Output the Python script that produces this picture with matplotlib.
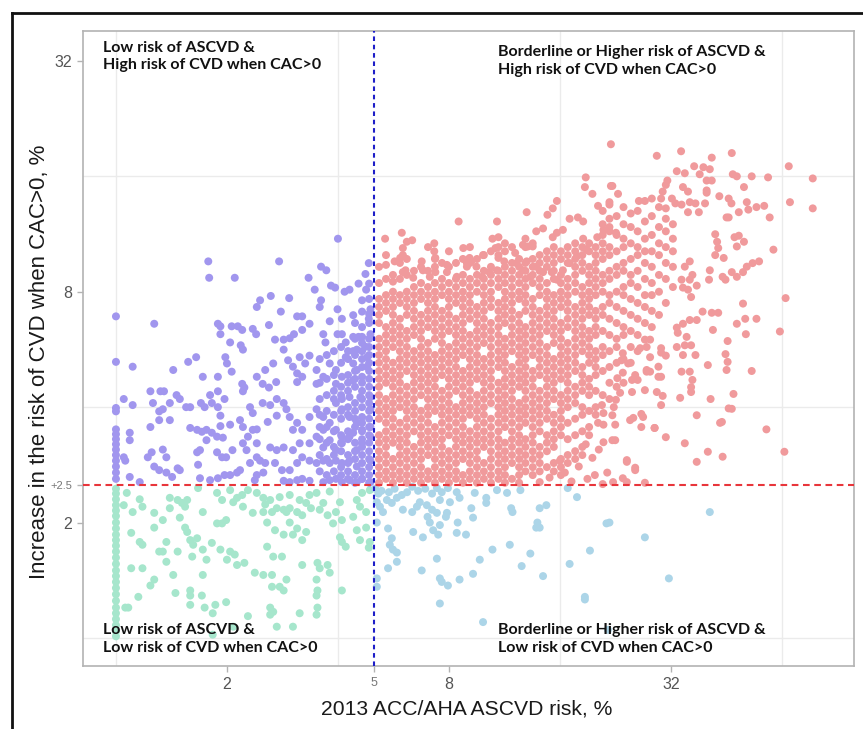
import matplotlib
matplotlib.use("Agg")
import matplotlib.pyplot as plt
from matplotlib.lines import Line2D
from matplotlib.ticker import FixedLocator, NullFormatter

# --- values (x = ASCVD risk %, y = increase in CVD risk %) ---

# low ASCVD / high CVD (purple)
purple_pts = [
    (4.0, 11.0), (1.78, 9.6), (1.79, 8.7), (2.1, 8.7), (2.77, 9.6), (3.33, 8.7), (3.6, 9.3), (3.72, 9.1),
    (4.85, 9.5), (4.75, 8.9), (3.46, 8.1), (3.83, 8.3), (3.93, 8.2), (4.17, 8.0), (4.3, 8.1), (4.55, 8.4),
    (4.77, 8.1), (2.63, 7.8), (2.95, 7.7), (2.46, 7.6), (2.41, 7.3), (2.8, 7.1), (3.6, 7.6), (3.57, 7.3),
    (3.99, 7.2), (3.8, 6.7), (4.1, 6.8), (4.4, 6.95), (4.65, 7.6), (4.9, 7.2), (4.85, 6.8), (3.1, 6.9),
    (3.2, 6.9), (3.35, 6.6), (2.6, 6.55), (1.89, 6.6), (1.92, 6.5), (1.92, 6.2), (2.06, 6.5), (2.14, 6.5),
    (2.2, 6.36), (2.35, 6.4), (2.4, 6.2), (2.7, 6.0), (2.85, 6.0), (2.96, 6.05), (3.04, 6.2), (3.2, 6.36),
    (3.65, 6.2), (3.7, 5.9), (3.99, 6.2), (4.1, 6.2), (4.4, 6.1), (4.55, 6.1), (4.65, 6.1), (4.9, 6.2),
    (1.0, 6.9), (1.27, 6.6), (1.0, 5.25), (1.11, 5.1), (1.43, 5.0), (1.57, 5.25), (1.65, 5.4),
    (2.04, 5.9), (2.18, 5.8), (2.21, 5.65), (1.98, 5.4), (2.0, 5.2), (2.06, 4.95), (1.72, 4.8), (1.89, 4.8),
    (2.2, 4.6), (2.23, 4.5), (2.21, 4.4), (2.41, 4.8), (2.54, 5.0), (2.67, 5.2), (2.85, 5.65), (2.93, 5.3),
    (3.02, 5.1), (3.15, 5.4), (3.26, 5.2), (3.35, 5.45), (3.1, 4.9), (3.2, 4.8), (3.1, 4.65), (3.5, 5.0),
    (3.65, 4.8), (3.5, 4.6), (3.8, 5.2), (3.95, 5.0), (4.1, 4.8), (3.95, 4.6), (4.2, 5.4), (4.4, 5.2),
    (4.5, 5.0), (4.4, 4.7), (4.65, 4.8), (4.8, 5.1), (4.8, 5.4), (4.5, 5.65), (4.75, 5.75), (4.2, 5.9),
    (4.4, 5.6), (2.5, 4.6), (2.6, 4.5), (2.72, 4.65),
    (1.05, 4.2), (1.11, 4.05), (1.0, 3.98), (1.0, 3.9), (1.24, 4.4), (1.32, 4.4), (1.35, 4.4), (1.26, 4.1),
    (1.31, 3.9), (1.34, 3.95), (1.4, 4.1), (1.46, 4.3), (1.49, 4.2), (1.55, 4.0), (1.59, 4.0), (1.4, 3.7),
    (1.31, 3.7), (1.24, 3.55), (1.09, 3.43), (1.09, 3.28),
    (1.7, 4.1), (1.74, 4.0), (1.8, 4.3), (1.82, 4.1), (1.89, 4.0), (1.89, 4.4), (1.97, 4.2), (1.92, 3.8),
    (1.92, 3.57), (2.04, 3.6), (2.17, 3.7), (2.31, 4.0), (2.35, 3.86), (2.41, 3.5), (2.21, 3.55),
    (2.5, 4.1), (2.62, 4.05), (2.73, 4.2), (2.85, 4.1), (2.9, 3.95), (2.73, 3.8), (2.58, 3.66), (2.96, 3.77),
    (3.1, 3.64), (3.2, 3.49), (3.02, 3.49), (3.35, 3.77), (3.5, 3.95), (3.65, 3.77), (3.57, 3.55), (3.8, 3.64),
    (3.65, 3.49), (3.95, 4.1), (4.1, 3.95), (4.3, 3.77), (4.5, 3.64), (4.65, 3.77), (4.9, 3.95), (4.9, 4.25),
    (4.6, 4.25), (4.3, 4.25), (4.1, 4.2), (3.95, 3.49), (4.1, 3.35), (4.4, 3.43), (4.65, 3.49), (4.9, 3.55),
    (1.0, 3.5), (1.0, 3.4), (1.0, 3.3), (1.0, 3.2), (1.0, 3.1), (1.0, 3.0), (1.0, 2.9), (1.0, 2.8),
    (1.0, 2.7), (1.0, 2.6), (1.05, 2.96), (1.06, 2.9), (1.09, 2.63), (1.16, 2.55), (1.25, 3.05), (1.22, 2.96),
    (1.27, 2.8), (1.31, 2.74), (1.37, 2.7), (1.42, 2.63), (1.47, 2.77), (1.49, 2.74), (1.34, 3.1), (1.37, 2.96),
    (1.59, 3.53), (1.66, 3.49), (1.71, 3.45), (1.76, 3.49), (1.82, 3.43), (1.76, 3.28), (1.66, 3.05),
    (1.69, 3.09), (1.88, 3.35), (1.95, 3.33), (1.88, 3.05), (1.94, 2.96), (1.99, 2.96), (2.07, 3.09),
    (1.67, 2.83), (1.69, 2.61), (1.8, 2.58), (1.89, 2.61), (1.97, 2.66), (2.04, 2.66), (2.13, 2.7), (2.17, 2.74),
    (2.21, 3.22), (2.28, 3.35), (2.35, 3.49), (2.41, 3.22), (2.26, 3.09), (2.41, 2.96), (2.31, 2.86),
    (2.46, 2.9), (2.54, 2.86), (2.51, 2.7), (2.41, 2.66), (2.38, 2.58), (2.62, 3.14), (2.73, 3.09),
    (2.85, 3.14), (2.7, 2.86), (2.82, 2.74), (2.96, 2.74), (3.1, 2.86), (3.2, 2.96), (3.02, 3.09), (3.15, 3.22),
    (2.85, 2.57), (2.96, 2.55), (3.1, 2.58), (3.2, 2.6), (3.35, 2.57), (3.65, 2.55), (3.8, 2.58), (3.95, 2.6),
    (4.1, 2.55), (4.3, 2.58), (4.5, 2.55), (4.65, 2.6), (4.9, 2.55), (3.35, 3.22), (3.5, 3.35), (3.65, 3.14),
    (3.8, 3.28), (3.95, 3.09), (4.1, 3.22), (4.3, 3.35), (4.5, 3.09), (4.65, 3.22), (4.9, 3.35), (3.65, 2.9),
    (3.8, 2.86), (3.95, 2.9), (4.1, 2.86), (4.3, 2.9), (4.5, 2.8), (4.65, 2.86), (4.9, 2.9), (3.5, 2.86),
    (3.35, 2.9),
]
# crowded strip just left of the 5% line
purple_dense = {
    4.86: [2.54, 2.66, 2.79, 2.93, 3.07, 3.23, 3.38, 3.55, 3.73, 3.91, 4.1, 4.3, 4.52, 4.74, 4.97,
           5.22, 5.47, 5.74, 6.03, 6.63, 7.0, 7.66, 8.4],
    4.65: [2.6, 2.72, 3.0, 3.15, 3.3, 3.46, 3.64, 4.0, 4.2, 4.41, 4.63, 5.09, 5.34, 5.6, 5.88, 6.47, 7.1],
    4.45: [2.54, 2.66, 2.93, 3.07, 3.23, 3.55, 3.73, 3.91, 4.1, 4.52, 4.74, 4.97, 5.47, 6.03, 6.63],
    4.26: [2.6, 2.72, 2.86, 3.0, 3.3, 3.46, 3.82, 4.0, 4.41, 4.63, 4.85, 5.34, 5.6],
    4.08: [2.66, 2.79, 3.07, 3.23, 3.38, 3.73, 3.91, 4.3, 4.52, 5.22, 5.74],
    3.9: [2.72, 3.0, 3.15, 3.46, 3.82, 4.2, 4.41, 4.85, 5.6],
    3.73: [2.66, 2.93, 3.23, 3.55, 3.91, 4.3, 4.74, 5.47],
    3.57: [2.72, 3.0, 3.3, 3.82, 4.2, 4.63, 5.34],
}

# low ASCVD / low CVD (mint)
mint_x1_y = [2.45, 2.38, 2.3, 2.22, 2.15, 2.08, 2.0, 1.93, 1.86, 1.8, 1.74, 1.68, 1.62, 1.56, 1.5,
             1.45, 1.4, 1.35, 1.3, 1.25, 1.2, 1.16, 1.12, 1.08, 1.04, 1.01]
mint_pts = [
    (1.06, 1.2), (1.08, 1.2), (1.07, 2.39), (1.05, 2.22), (1.11, 2.13), (1.16, 2.3), (1.18, 2.2), (1.27, 2.12),
    (1.4, 2.32), (1.4, 2.18), (1.47, 2.29), (1.51, 2.25), (1.56, 2.29), (1.54, 2.2), (1.67, 2.46), (1.72, 2.13),
    (1.88, 1.99), (1.94, 1.99), (2.04, 2.43), (1.34, 2.03), (1.49, 2.06), (1.27, 1.94), (1.54, 1.94),
    (1.56, 1.89), (1.59, 1.8), (1.66, 1.82), (1.82, 1.77), (1.1, 1.88), (1.16, 1.78), (1.18, 1.75),
    (1.37, 1.78), (1.31, 1.68), (1.34, 1.68), (1.47, 1.68), (1.37, 1.58), (1.62, 1.75), (1.72, 1.7),
    (1.61, 1.63), (1.76, 1.6), (1.92, 1.7), (2.04, 1.68), (2.1, 1.65), (2.0, 1.6), (2.13, 1.55), (2.23, 1.57),
    (1.1, 1.52), (1.18, 1.52), (1.27, 1.42), (1.24, 1.37), (1.43, 1.46), (1.72, 1.46), (1.45, 1.31),
    (1.15, 1.28), (1.59, 1.33), (1.59, 1.29), (1.71, 1.29), (1.59, 1.22), (1.74, 1.2), (1.86, 1.22),
    (1.83, 1.16), (1.99, 1.24), (1.83, 1.02), (2.08, 1.07), (2.13, 2.32), (2.2, 2.36), (2.35, 2.12),
    (2.21, 2.2), (2.28, 2.43), (2.41, 2.39), (2.51, 2.32), (2.54, 2.23), (2.62, 2.29), (2.51, 2.13),
    (2.65, 2.13), (2.73, 2.18), (2.85, 2.16), (2.9, 2.13), (2.96, 2.18), (3.1, 2.13), (2.96, 2.0), (3.2, 2.09),
    (3.28, 2.25), (3.38, 2.18), (3.57, 2.16), (3.65, 2.25), (3.75, 2.09), (3.95, 2.13), (4.05, 2.26),
    (3.8, 2.41), (2.57, 2.0), (2.7, 1.91), (2.85, 1.86), (3.02, 1.86), (3.1, 1.93), (3.28, 1.89), (3.2, 1.8),
    (2.57, 1.73), (2.67, 1.63), (2.82, 1.63), (3.2, 1.55), (3.52, 1.57), (3.75, 1.55), (3.8, 1.48),
    (3.57, 1.52), (2.38, 1.48), (2.51, 1.46), (2.65, 1.46), (2.65, 1.36), (2.78, 1.36), (2.85, 1.33),
    (2.9, 1.42), (3.5, 1.42), (3.52, 1.33), (3.5, 1.29), (4.1, 1.33), (2.62, 1.2), (2.67, 1.17), (2.62, 1.15),
    (2.73, 1.07), (3.02, 1.07), (3.15, 1.16), (3.52, 1.2), (3.5, 1.15), (2.28, 1.14), (3.88, 1.99),
    (4.1, 2.03), (4.4, 2.07), (4.5, 1.91), (4.77, 1.94), (4.59, 1.8), (4.88, 1.78), (4.1, 1.78), (4.05, 1.83),
    (4.2, 1.73), (4.85, 1.72), (4.5, 2.29), (4.65, 2.39), (4.88, 2.43), (4.77, 2.13), (4.59, 2.2),
    (3.15, 2.29), (3.35, 2.36), (2.96, 2.36), (2.78, 2.33), (3.5, 2.39), (1.88, 2.39), (1.94, 2.29),
    (2.08, 2.26), (1.99, 2.03),
]

# borderline+ ASCVD / low CVD (light blue)
blue_pts = [
    (5.1, 2.26), (5.2, 2.2), (5.3, 2.13), (5.43, 2.29), (5.6, 2.25), (5.78, 2.32), (5.96, 2.36), (6.16, 2.4),
    (6.36, 2.48), (6.0, 2.16), (6.36, 2.13), (6.55, 2.2), (6.67, 2.26), (6.97, 2.22), (7.2, 2.16), (7.0, 2.07),
    (7.1, 2.0), (7.42, 2.12), (7.56, 2.29), (7.65, 2.4), (7.42, 2.46), (7.95, 2.46), (8.4, 2.4), (8.55, 2.32),
    (8.05, 2.26), (7.9, 2.12), (7.85, 2.07), (5.1, 2.0), (5.47, 1.93), (5.6, 1.82), (5.53, 1.75), (5.64, 1.7),
    (5.78, 1.67), (5.78, 1.58), (5.47, 1.52), (5.1, 1.43), (5.1, 1.36), (6.4, 1.89), (6.8, 1.83), (7.25, 1.91),
    (7.56, 1.97), (7.48, 1.86), (8.45, 2.0), (8.4, 1.88), (8.9, 1.86), (9.3, 2.06), (9.2, 2.18), (9.4, 2.39),
    (10.1, 2.32), (10.1, 2.25), (10.8, 2.43), (11.5, 2.39), (11.8, 2.18), (11.9, 2.13), (12.5, 2.43),
    (14.1, 2.18), (14.7, 2.22), (13.9, 2.0), (14.1, 1.94), (13.8, 1.94), (16.8, 2.46), (17.8, 2.33),
    (21.4, 1.99), (21.8, 2.0), (27.2, 1.83), (40.8, 2.13), (7.42, 1.61), (6.75, 1.5), (7.56, 1.43),
    (7.65, 1.4), (7.95, 1.37), (8.55, 1.42), (9.3, 1.47), (9.7, 1.6), (10.5, 1.7), (11.7, 1.75), (12.6, 1.54),
    (13.3, 1.66), (14.4, 1.45), (17.0, 1.56), (19.3, 1.69), (18.7, 1.28), (18.7, 1.26), (21.6, 1.05),
    (31.6, 1.43), (7.56, 1.23), (9.9, 1.1), (5.05, 2.45), (5.15, 2.38), (5.25, 2.42), (5.5, 2.4),
    (5.7, 2.45), (6.6, 2.42), (6.9, 2.45), (7.2, 2.38),
]

# borderline+ ASCVD / high CVD (pink): outer scatter
pink_pts = [
    (22.0, 19.4), (18.8, 15.9), (18.7, 15.0), (22.0, 15.1), (19.6, 14.4), (20.3, 13.4), (15.7, 13.8),
    (15.3, 13.2), (13.0, 12.9), (10.8, 12.2), (8.5, 12.2), (14.8, 12.7), (17.0, 12.4), (17.9, 12.5),
    (18.5, 12.2), (14.4, 11.7), (13.8, 11.5), (5.96, 11.4), (5.37, 11.0), (6.15, 10.8), (6.36, 10.9),
    (6.0, 10.4), (7.3, 10.7), (7.3, 10.2), (7.35, 9.8), (10.5, 11.0), (10.9, 11.1), (10.7, 10.4), (10.9, 9.8),
    (11.3, 9.6), (8.75, 10.4), (9.1, 9.8), (8.95, 9.5), (9.5, 9.3), (9.9, 9.97), (12.1, 10.1), (12.7, 10.6),
    (13.1, 10.5), (13.5, 10.5), (13.0, 9.6), (15.3, 11.1), (15.7, 11.4), (16.3, 11.6), (5.4, 9.4), (5.7, 9.6),
    (5.9, 9.8), (6.0, 9.97), (5.64, 8.5), (6.0, 9.0), (6.1, 9.1), (6.4, 8.7), (6.8, 9.1), (6.75, 9.6),
    (7.1, 8.75), (7.35, 9.0), (7.9, 9.4), (7.9, 9.0), (8.4, 8.75), (8.95, 9.3), (9.2, 9.6), (9.85, 8.75),
    (10.3, 9.0), (10.8, 9.1), (12.2, 9.5), (12.7, 9.1), (13.3, 8.75), (13.8, 9.3), (14.4, 9.0), (15.2, 9.0),
    (15.7, 8.6), (16.3, 9.1), (17.0, 9.5), (17.8, 9.9), (18.9, 10.3), (18.5, 11.0), (20.2, 11.1), (21.0, 11.6),
    (21.8, 11.8), (22.7, 11.4), (29.3, 18.1), (34.1, 18.6), (46.8, 18.4), (66.8, 17.0), (77.6, 15.8),
    (67.3, 13.7), (77.6, 13.2), (41.3, 17.9), (37.0, 17.0), (39.2, 16.9), (40.8, 16.7), (38.3, 16.2),
    (33.2, 16.5), (34.9, 16.3), (31.3, 15.6), (31.0, 15.2), (40.0, 15.6), (41.3, 15.6), (47.1, 16.2),
    (48.3, 16.0), (53.0, 16.0), (58.7, 15.9), (34.5, 15.0), (35.6, 14.6), (40.0, 14.7), (43.3, 14.2),
    (45.9, 14.0), (46.7, 13.6), (50.5, 15.0), (51.4, 13.7), (51.9, 13.1), (54.6, 13.3), (57.3, 13.4),
    (59.3, 12.5), (45.9, 12.5), (45.3, 12.5), (48.9, 12.9), (22.2, 15.1), (23.0, 14.4), (26.2, 13.8),
    (21.8, 13.7), (30.4, 14.6), (30.1, 14.0), (32.2, 14.0), (32.9, 13.6), (31.0, 13.2), (34.2, 13.5),
    (36.0, 13.7), (37.3, 13.6), (35.6, 12.9), (38.1, 12.9), (39.6, 13.6), (40.0, 14.5), (42.2, 11.3),
    (42.7, 10.8), (43.0, 10.4), (42.2, 9.97), (44.5, 9.8), (48.3, 10.5), (47.6, 11.1), (48.9, 11.2),
    (50.5, 10.8), (60.7, 10.3), (46.8, 9.0), (48.3, 8.75), (50.2, 9.0), (51.4, 9.3), (53.3, 9.5), (55.5, 9.6),
    (40.8, 9.1), (40.6, 8.6), (44.2, 8.75), (45.0, 8.6), (36.0, 9.6), (34.9, 9.3), (34.2, 8.6), (34.5, 8.2),
    (36.0, 8.6), (36.6, 8.85), (37.6, 8.3), (35.6, 8.1), (36.3, 7.75), (50.2, 7.45), (50.9, 6.8), (48.3, 6.6),
    (51.1, 6.2), (54.6, 6.8), (65.5, 7.7), (63.2, 6.3), (45.6, 5.95), (45.0, 5.5), (39.0, 7.1), (41.3, 7.05),
    (43.0, 7.05), (36.0, 6.75), (34.5, 6.6), (33.2, 6.45), (33.4, 6.25), (37.6, 6.75), (41.6, 6.36),
    (35.3, 6.1), (36.3, 5.8), (45.6, 5.25), (45.3, 5.0), (53.0, 4.97), (47.3, 4.33), (45.9, 3.97),
    (44.0, 3.66), (58.1, 3.5), (65.0, 3.06), (44.2, 2.97), (40.3, 3.06), (37.6, 2.88), (34.9, 3.22),
    (37.6, 3.81), (41.0, 4.2), (33.9, 4.23), (36.3, 4.38), (36.3, 4.51), (36.6, 4.71), (34.2, 4.95),
    (36.0, 4.95), (34.5, 5.47), (37.3, 5.47), (33.2, 5.74), (34.9, 5.8), (40.3, 5.15), (31.0, 3.34),
    (28.9, 3.53), (26.6, 3.55), (26.6, 3.84), (25.3, 3.75), (24.8, 3.7), (30.1, 4.05), (30.4, 4.28),
    (29.3, 4.38), (27.2, 4.43), (25.1, 4.38), (30.1, 4.8), (29.6, 4.8), (28.1, 4.95), (27.5, 5.0), (31.0, 5.45),
    (30.1, 5.55), (24.3, 2.88), (25.6, 2.78), (22.3, 2.55), (24.3, 2.55), (27.2, 2.54), (22.2, 3.28),
    (22.6, 3.28), (21.0, 3.24), (22.6, 3.6), (22.2, 3.81), (21.0, 3.6), (20.8, 4.05), (22.4, 4.0), (21.0, 3.86),
    (23.3, 4.36), (22.7, 4.18), (25.1, 4.71), (25.6, 4.85), (26.0, 4.71), (23.7, 4.92), (22.9, 4.76),
    (23.5, 5.3), (23.7, 5.53), (24.5, 5.2), (26.4, 5.7), (27.5, 5.74), (28.1, 5.4), (27.5, 4.95), (29.6, 5.1),
    (30.1, 5.7), (28.1, 6.0), (19.9, 2.66), (20.9, 2.52), (23.7, 2.61), (25.6, 2.74), (24.3, 2.91),
    (20.3, 3.64), (26.9, 3.77), (28.9, 3.53), (46.8, 3.96), (43.5, 3.64), (14.1, 2.55), (15.0, 2.62),
    (16.5, 2.7), (17.2, 2.56), (18.0, 2.8), (19.0, 2.6), (19.6, 2.95), (20.4, 3.1), (21.5, 2.7), (18.8, 3.2),
    (16.0, 2.9),
]
# pink: the saturated core, read column by column
pink_dense = {
    5.17: [2.54, 2.66, 2.79, 2.93, 3.07, 3.23, 3.38, 3.73, 3.91, 4.10, 4.30, 4.52, 4.74, 4.97, 5.22, 5.47,
           5.74, 6.03, 6.63, 6.96, 7.30, 7.66, 8.43, 9.29],
    5.40: [2.6, 2.72, 2.86, 3.0, 3.15, 3.3, 3.46, 3.64, 3.82, 4.0, 4.2, 4.63, 4.85, 5.09, 5.34, 5.6, 5.88,
           6.17, 6.47, 7.13, 7.48, 7.84, 8.64, 9.97],
    5.64: [2.54, 2.66, 2.79, 2.93, 3.23, 3.38, 3.55, 3.73, 3.91, 4.10, 4.30, 4.52, 4.74, 4.97, 5.22, 5.74,
           6.03, 6.32, 6.63, 6.96, 7.30, 7.66, 8.0, 8.85],
    5.89: [2.6, 2.72, 2.86, 3.0, 3.15, 3.3, 3.46, 3.64, 4.0, 4.2, 4.41, 4.63, 4.85, 5.09, 5.34, 5.6, 5.88,
           6.17, 6.47, 6.8, 7.48, 7.84, 8.64, 9.51],
    6.15: [2.54, 2.66, 2.79, 2.93, 3.07, 3.23, 3.38, 3.55, 3.73, 3.91, 4.10, 4.30, 4.52, 4.97, 5.22, 5.47,
           5.74, 6.03, 6.32, 6.96, 7.30, 7.66, 8.0, 8.85, 9.74],
    6.43: [2.6, 2.72, 2.86, 3.0, 3.15, 3.46, 3.64, 3.82, 4.0, 4.2, 4.41, 4.63, 4.85, 5.09, 5.34, 5.6, 6.17,
           6.47, 6.8, 7.13, 7.48, 7.84, 8.23, 9.07],
    6.72: [2.54, 2.66, 2.79, 2.93, 3.07, 3.23, 3.38, 3.55, 3.73, 3.91, 4.30, 4.52, 4.74, 4.97, 5.22, 5.47,
           5.74, 6.03, 6.32, 6.63, 6.96, 7.66, 8.0, 8.43, 9.29],
    7.02: [2.6, 2.72, 3.0, 3.15, 3.3, 3.46, 3.64, 3.82, 4.0, 4.2, 4.41, 4.63, 4.85, 5.09, 5.34, 5.6, 5.88,
           6.47, 6.8, 7.13, 7.48, 7.84, 8.23, 9.07, 10.46],
    7.33: [2.54, 2.66, 2.79, 2.93, 3.07, 3.23, 3.38, 3.55, 3.91, 4.10, 4.30, 4.52, 4.74, 4.97, 5.22, 5.47,
           6.03, 6.32, 6.63, 6.96, 7.30, 7.66, 8.0, 8.43, 9.29, 9.74],
    7.66: [2.6, 2.72, 2.86, 3.0, 3.15, 3.3, 3.46, 3.64, 3.82, 4.0, 4.2, 4.41, 4.85, 5.09, 5.34, 5.6, 5.88,
           6.17, 6.47, 6.8, 7.13, 7.84, 8.23, 8.64, 9.51],
    8.0: [2.54, 2.66, 2.79, 2.93, 3.07, 3.38, 3.55, 3.73, 3.91, 4.10, 4.30, 4.52, 4.74, 4.97, 5.22, 5.47,
          5.74, 6.32, 6.63, 6.96, 7.30, 7.66, 8.0, 8.43, 9.29, 10.2],
    8.36: [2.6, 2.72, 2.86, 3.0, 3.15, 3.3, 3.46, 3.64, 3.82, 4.0, 4.41, 4.63, 4.85, 5.09, 5.34, 5.6, 5.88,
           6.17, 6.47, 6.8, 7.48, 7.84, 8.23, 8.64, 9.51],
    8.73: [2.54, 2.66, 2.93, 3.07, 3.23, 3.38, 3.55, 3.73, 3.91, 4.10, 4.30, 4.52, 4.74, 4.97, 5.47, 5.74,
           6.03, 6.32, 6.63, 6.96, 7.30, 7.66, 8.0, 8.43, 8.85, 9.74],
    9.12: [2.6, 2.72, 2.86, 3.0, 3.15, 3.3, 3.46, 3.82, 4.0, 4.2, 4.41, 4.63, 4.85, 5.09, 5.34, 5.6, 5.88,
           6.17, 6.8, 7.13, 7.48, 7.84, 8.23, 8.64, 9.51, 10.46],
    9.53: [2.54, 2.66, 2.79, 2.93, 3.07, 3.23, 3.38, 3.55, 3.73, 3.91, 4.10, 4.30, 4.74, 4.97, 5.22, 5.47,
           5.74, 6.03, 6.32, 6.63, 6.96, 7.30, 8.0, 8.43, 8.85, 9.74],
    9.95: [2.6, 2.72, 2.86, 3.15, 3.3, 3.46, 3.64, 3.82, 4.0, 4.2, 4.41, 4.63, 4.85, 5.09, 5.34, 5.88, 6.17,
           6.47, 6.8, 7.13, 7.48, 7.84, 8.23, 8.64, 9.07, 9.97],
    10.4: [2.54, 2.66, 2.79, 2.93, 3.07, 3.23, 3.38, 3.55, 3.73, 4.10, 4.30, 4.52, 4.74, 4.97, 5.22, 5.47,
           5.74, 6.03, 6.32, 6.63, 7.30, 7.66, 8.0, 8.43, 8.85, 9.29, 10.2],
    10.9: [2.6, 2.72, 2.86, 3.0, 3.15, 3.3, 3.46, 3.64, 3.82, 4.0, 4.2, 4.41, 4.63, 5.09, 5.34, 5.6, 5.88,
           6.17, 6.47, 6.8, 7.13, 7.48, 8.23, 8.64, 9.07, 9.97, 10.46],
    11.35: [2.54, 2.66, 2.79, 2.93, 3.07, 3.23, 3.55, 3.73, 3.91, 4.10, 4.30, 4.52, 4.74, 4.97, 5.22, 5.47,
            5.74, 6.03, 6.63, 6.96, 7.30, 7.66, 8.0, 8.43, 8.85, 9.29, 10.2, 10.7],
    11.86: [2.6, 2.86, 3.0, 3.15, 3.3, 3.46, 3.64, 3.82, 4.0, 4.2, 4.41, 4.63, 4.85, 5.09, 5.6, 5.88, 6.17,
            6.47, 6.8, 7.13, 7.48, 7.84, 8.23, 8.64, 9.07, 9.51, 10.46],
    12.4: [2.54, 2.66, 2.79, 2.93, 3.07, 3.23, 3.38, 3.55, 3.73, 3.91, 4.10, 4.52, 4.74, 4.97, 5.22, 5.47,
           5.74, 6.03, 6.32, 6.63, 6.96, 7.66, 8.0, 8.43, 8.85, 9.29, 9.74],
    12.9: [2.72, 2.86, 3.0, 3.15, 3.3, 3.64, 3.82, 4.0, 4.2, 4.41, 4.63, 4.85, 5.09, 5.34, 5.6, 5.88, 6.17,
           6.47, 7.13, 7.48, 7.84, 8.23, 8.64, 9.07, 9.51, 10.46, 11.0],
    13.5: [2.66, 2.79, 2.93, 3.07, 3.23, 3.38, 3.55, 3.73, 3.91, 4.10, 4.30, 4.52, 4.74, 4.97, 5.47, 5.74,
           6.03, 6.32, 6.63, 6.96, 7.30, 7.66, 8.43, 8.85, 9.29, 9.74, 10.7],
    14.1: [2.72, 2.86, 3.0, 3.15, 3.46, 3.64, 3.82, 4.0, 4.2, 4.41, 4.85, 5.09, 5.34, 5.6, 5.88, 6.17, 6.47,
           6.8, 7.13, 7.84, 8.23, 8.64, 9.07, 9.51, 9.97],
    14.75: [2.79, 3.07, 3.23, 3.38, 3.73, 3.91, 4.10, 4.30, 4.52, 4.74, 4.97, 5.22, 5.47, 5.74, 6.32, 6.63,
            6.96, 7.30, 7.66, 8.0, 8.43, 9.29, 9.74, 10.2],
    15.4: [2.72, 2.86, 3.15, 3.3, 3.46, 3.64, 3.82, 4.2, 4.41, 4.63, 4.85, 5.09, 5.34, 5.88, 6.17, 6.47, 6.8,
           7.13, 7.48, 7.84, 8.64, 9.07, 9.51, 9.97, 10.46],
    16.1: [2.66, 2.79, 2.93, 3.38, 3.55, 3.73, 3.91, 4.10, 4.30, 4.74, 4.97, 5.22, 5.47, 5.74, 6.03, 6.32,
           6.63, 7.30, 7.66, 8.0, 8.43, 8.85, 9.74, 10.2],
    16.8: [2.86, 3.0, 3.3, 3.64, 4.0, 4.2, 4.41, 4.63, 4.85, 5.09, 5.34, 5.6, 5.88, 6.47, 6.8, 7.13, 7.48,
           7.84, 8.23, 8.64, 9.51, 9.97, 10.46],
    17.6: [2.93, 3.07, 3.38, 3.73, 4.10, 4.30, 4.52, 4.97, 5.22, 5.47, 5.74, 6.03, 6.32, 6.63, 6.96, 7.30,
           8.0, 8.43, 8.85, 9.29, 9.74, 10.2, 10.7],
    18.4: [3.0, 3.15, 3.46, 3.82, 4.0, 4.41, 4.63, 4.85, 5.09, 5.6, 5.88, 6.17, 6.47, 6.8, 7.13, 7.48, 7.84,
           8.23, 9.07, 9.51, 9.97, 10.46],
    19.2: [3.38, 3.55, 3.91, 4.30, 4.52, 4.74, 5.22, 5.47, 5.74, 6.03, 6.32, 6.96, 7.30, 7.66, 8.0, 8.43,
           8.85, 9.29, 10.2, 10.7],
    20.0: [3.82, 4.0, 4.41, 4.85, 5.09, 5.34, 5.6, 6.17, 6.47, 6.8, 7.13, 7.84, 8.23, 8.64, 9.07, 9.51,
           9.97, 10.46],
    20.9: [4.3, 4.97, 5.47, 5.74, 6.32, 6.96, 7.3, 8.0, 8.43, 8.85, 9.74, 10.2, 10.7, 11.25, 12.0, 13.0],
    21.8: [4.2, 4.63, 5.09, 5.6, 6.17, 6.8, 7.48, 7.84, 8.64, 9.07, 9.97, 10.46, 11.5, 12.4, 13.5],
    22.8: [4.52, 5.22, 5.74, 6.03, 6.63, 7.3, 8.0, 8.85, 9.29, 10.2, 11.25, 12.6],
    23.8: [4.63, 5.34, 6.17, 6.47, 7.13, 7.84, 8.23, 9.07, 9.51, 10.46, 11.0, 12.0, 13.3],
    24.9: [5.22, 5.74, 6.32, 6.96, 7.66, 8.43, 8.85, 9.74, 10.7, 11.8, 12.8],
    26.0: [5.6, 6.17, 6.8, 7.48, 8.23, 9.07, 9.97, 10.46, 11.5, 13.0],
    27.2: [6.0, 6.63, 7.3, 7.84, 8.64, 9.51, 10.2, 11.0, 12.2, 13.8],
    28.4: [6.47, 7.13, 7.84, 8.43, 9.29, 10.2, 11.25, 12.6, 14.0],
    29.7: [6.96, 8.0, 8.85, 9.97, 10.7, 11.8, 13.3],
    31.0: [7.48, 8.64, 9.51, 10.46, 11.5, 12.4],
    32.4: [8.23, 9.29, 10.2, 11.0, 12.0],
}

x_ticks = [2, 5, 8, 32]
y_ticks = [2, 2.5, 8, 32]
y_tick_labels = ["2", "+2.5", "8", "32"]
grid_x = [1, 2, 4, 8, 16, 32, 64]
grid_y = [1, 2, 4, 8, 16, 32]
ascvd_cut = 5
cvd_cut = 2.5

labels = {
    "tl": "Low risk of ASCVD &\nHigh risk of CVD when CAC>0",
    "tr": "Borderline or Higher risk of ASCVD &\nHigh risk of CVD when CAC>0",
    "bl": "Low risk of ASCVD &\nLow risk of CVD when CAC>0",
    "br": "Borderline or Higher risk of ASCVD &\nLow risk of CVD when CAC>0",
}


def unpack(pts, cols=None):
    pts = list(pts)
    if cols:
        pts += [(x, y) for x, ys in cols.items() for y in ys]
    return [p[0] for p in pts], [p[1] for p in pts]


groups = [
    (unpack([(1.0, y) for y in mint_x1_y] + mint_pts), "#A6E6CC"),
    (unpack(blue_pts), "#ACD5E8"),
    (unpack(purple_pts, purple_dense), "#A196EE"),
    (unpack(pink_pts, pink_dense), "#F09A9C"),
]

fig = plt.figure(figsize=(8.63, 7.29), dpi=100)
ax = fig.add_axes([83 / 863, 1 - 666 / 729, 771 / 863, 635 / 729])
ax.set_xscale("log", base=2)
ax.set_yscale("log", base=2)
ax.set_xlim(0.814, 100.4)
ax.set_ylim(0.845, 38.3)

for (xs, ys), col in groups:
    ax.scatter(xs, ys, s=33, color=col, edgecolors="none", zorder=2)

ax.axvline(ascvd_cut, color="#1E1EC8", lw=1.5, ls=(0, (2.2, 1.8)), zorder=3)
ax.axhline(cvd_cut, color="#E8353B", lw=1.5, ls=(0, (3.2, 2.2)), zorder=3)

# grid at powers of two, labelled ticks elsewhere
ax.xaxis.set_minor_locator(FixedLocator(grid_x))
ax.yaxis.set_minor_locator(FixedLocator(grid_y))
ax.xaxis.set_minor_formatter(NullFormatter())
ax.yaxis.set_minor_formatter(NullFormatter())
ax.grid(which="minor", color="#EBEBEB", lw=1.0, zorder=0)
ax.grid(which="major", visible=False)
ax.set_axisbelow(True)
ax.tick_params(which="minor", length=0)

ax.set_xticks(x_ticks, [str(v) for v in x_ticks])
ax.set_yticks(y_ticks, y_tick_labels)
ax.tick_params(which="major", length=4, width=1, color="#B3B3B3",
               labelsize=11.5, labelcolor="#555555", pad=4)
for lab in ax.get_xticklabels():
    lab.set_family("Liberation Sans")
    if lab.get_text() == "5":
        lab.set_fontsize(9)
        lab.set_color("#777777")
for lab in ax.get_yticklabels():
    lab.set_family("Liberation Sans")
    if lab.get_text() == "+2.5":
        lab.set_fontsize(8)
        lab.set_color("#777777")

for sp in ax.spines.values():
    sp.set_color("#B3B3B3")
    sp.set_linewidth(1.2)

txt = dict(family="Lato", weight="bold", fontsize=11.5, color="#111111", linespacing=1.35)
ax.text(0.026, 0.985, labels["tl"], transform=ax.transAxes, ha="left", va="top", **txt)
ax.text(0.538, 0.978, labels["tr"], transform=ax.transAxes, ha="left", va="top", **txt)
ax.text(0.026, 0.018, labels["bl"], transform=ax.transAxes, ha="left", va="bottom", **txt)
ax.text(0.538, 0.018, labels["br"], transform=ax.transAxes, ha="left", va="bottom", **txt)

fig.text(467 / 863, 1 - 709 / 729, "2013 ACC/AHA ASCVD risk, %", ha="center", va="center",
         family="Liberation Sans", fontsize=15.2, color="#1A1A1A")
fig.text(40 / 863, 1 - 362 / 729, "Increase in the risk of CVD when CAC>0, %", ha="center",
         va="center", rotation=90, family="Liberation Sans", fontsize=16, color="#1A1A1A")

# outer frame of the figure (open to the right and bottom as in the source crop)
fig.add_artist(Line2D([12 / 863, 12 / 863], [0, 1 - 13 / 729], color="#111111", lw=2))
fig.add_artist(Line2D([12 / 863, 1], [1 - 13 / 729, 1 - 13 / 729], color="#111111", lw=2))

fig.savefig("out.png", dpi=100)
